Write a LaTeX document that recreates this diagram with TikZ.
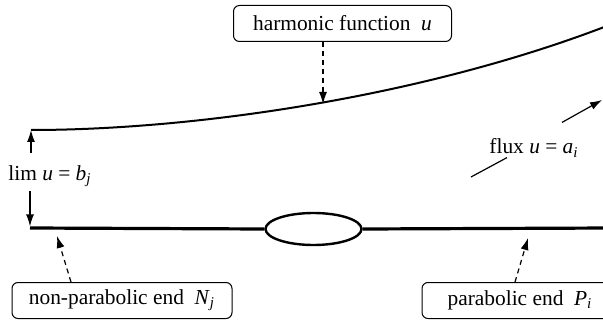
\documentclass[tikz,border=0pt]{standalone}
\usepackage{fontspec}
\setmainfont{Liberation Serif}
\usetikzlibrary{arrows.meta,positioning,shapes.geometric}
\newcommand{\vr}[1]{\textit{#1}}
\tikzset{
  tag/.style={draw,line width=0.5pt,rounded corners=3pt,minimum height=18pt,inner xsep=4pt,font=\fontsize{10.7}{13}\selectfont},
  txt/.style={font=\fontsize{10.7}{13}\selectfont,inner sep=1pt},
  arr/.style={-{Latex[length=6pt,width=4pt]},line width=0.6pt},
  darr/.style={arr,dash pattern=on 2.5pt off 2pt},
  graph/.style={line width=1pt},
  base/.style={line width=1.6pt}
}

\begin{document}
\begin{tikzpicture}[x=0.5pt,y=-0.5pt]
  \clip (0,0) rectangle (603,320);
  % curve and base line
  \coordinate (c0) at (31,130);
  \coordinate (c1) at (612,24);
  \coordinate (b0) at (30,228);
  \coordinate (b1) at (612,228);
  \coordinate (hu) at (323,104);
  \coordinate (ntip) at (57,236);
  \coordinate (ptip) at (528,238);
  \coordinate (ftip) at (602,100);
  \coordinate (fend) at (471,177);

  \node[tag,minimum width=109pt] (hf) at (342.5,23.5) {harmonic function\ \ \vr{u}};
  \node[tag,minimum width=110pt] (npe) at (122,300.5) {non-parabolic end\ \ \vr{N}\textsubscript{\vr{j}}};
  \node[tag,minimum width=98pt] (pe) at (520,300.5) {parabolic end\ \ \vr{P}\textsubscript{\vr{i}}};
  \node[txt] (lim) at (50,176) {lim \vr{u} = \vr{b}\textsubscript{\vr{j}}};
  \node[txt] (flux) at (534,148) {flux \vr{u} = \vr{a}\textsubscript{\vr{i}}};
  \node[draw,ellipse,line width=1.2pt,minimum width=48pt,minimum height=16pt,inner sep=0pt] (neck) at (313.5,229) {};

  \draw[graph] (c0) .. controls (200,130) and (430,95) .. (c1);
  \draw[base] (b0) -- (neck.west);
  \draw[base] (neck.east) -- (b1);

  \draw[darr] (hf.south -| hu) -- (hu);
  \draw[darr] ([xshift=-25.5pt]npe.north) -- (ntip);
  \draw[darr] ([xshift=-2.5pt]pe.north) -- (ptip);

  \draw[arr,shorten <=5pt] (lim.north -| c0) -- (c0);
  \draw[arr,shorten <=1pt] (lim.south -| b0) -- ([yshift=0.8pt]b0);

  \draw[arr] ([xshift=14pt,yshift=7pt]flux.north) -- (ftip);
  \draw[line width=0.6pt] ([xshift=-13.5pt,yshift=1pt]flux.south) -- (fend);
\end{tikzpicture}
\end{document}
